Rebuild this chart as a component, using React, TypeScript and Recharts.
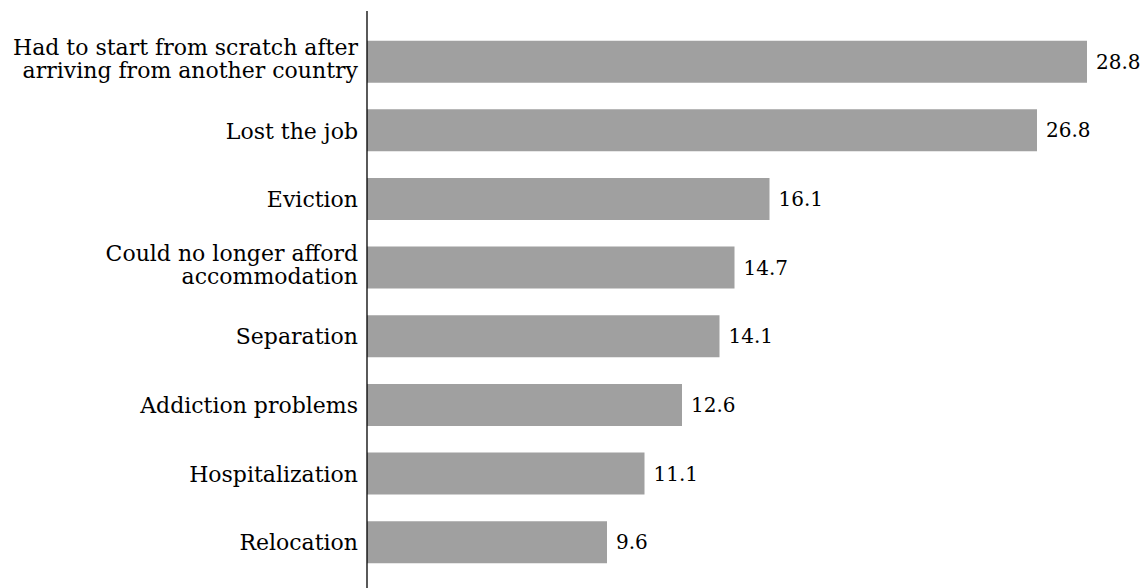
import React from 'react'
import { BarChart, Bar, XAxis, YAxis, LabelList } from 'recharts'

const categories = [
    'Had to start from scratch after\narriving from another country',
    'Lost the job',
    'Eviction',
    'Could no longer afford\naccommodation',
    'Separation',
    'Addiction problems',
    'Hospitalization',
    'Relocation',
]
const shares = [28.8, 26.8, 16.1, 14.7, 14.1, 12.6, 11.1, 9.6]

const FONT = '"DejaVu Serif", "Liberation Serif", serif'
const TICK_SIZE = 22
const VALUE_SIZE = 20
const LINE_HEIGHT = 23

const data = categories.map((name, i) => ({ name, value: shares[i] }))

// multi-line tick labels, lines split on \n
function CategoryTick(props: any) {
    const { x, y, payload } = props
    const lines = String(payload.value).split('\n')
    const n = lines.length
    const firstDy = -((n - 1) * LINE_HEIGHT) / 2 + TICK_SIZE * 0.36 - (n - 1) * 3
    return (
        <text x={x} y={y} textAnchor="end" fill="#000" fontFamily={FONT} fontSize={TICK_SIZE}>
            {lines.map((line, i) => (
                <tspan key={i} x={x} dy={i === 0 ? firstDy : LINE_HEIGHT}>
                    {line}
                </tspan>
            ))}
        </text>
    )
}

export default function App() {
    return (
        <div style={{ position: 'absolute', left: 0, top: 0, background: '#fff' }}>
            <BarChart
                width={1148}
                height={588}
                data={data}
                layout="vertical"
                margin={{ top: 11, right: 31, left: 0, bottom: 0 }}
            >
                <XAxis type="number" domain={[0, 30]} hide />
                <YAxis
                    type="category"
                    dataKey="name"
                    width={367}
                    axisLine={{ stroke: '#000', strokeWidth: 1.3 }}
                    tickLine={false}
                    tickSize={0}
                    tickMargin={9}
                    padding={{ top: 16.7, bottom: 11.2 }}
                    tick={<CategoryTick />}
                    interval={0}
                />
                <Bar dataKey="value" fill="#a0a0a0" barSize={42} isAnimationActive={false}>
                    <LabelList
                        dataKey="value"
                        position="right"
                        offset={9}
                        fill="#000"
                        fontFamily={FONT}
                        fontSize={VALUE_SIZE}
                        formatter={(v: any) => Number(v).toFixed(1)}
                    />
                </Bar>
            </BarChart>
        </div>
    )
}
